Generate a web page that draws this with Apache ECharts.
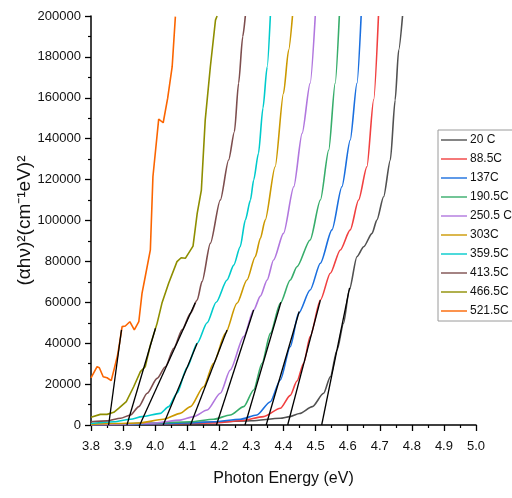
<!DOCTYPE html>
<html><head><meta charset="utf-8">
<script src="https://cdn.jsdelivr.net/npm/echarts@6/dist/echarts.min.js"></script>
<style>html,body{margin:0;padding:0;background:#fff}#c{width:512px;height:498px}</style>
</head><body><div id="c"></div>
<script>
const seriesNames = ['20 C','88.5C','137C','190.5C','250.5 C','303C','359.5C','413.5C','466.5C','521.5C'];
const seriesColors = ['#515151','#F14040','#1A6FDF','#37AD6B','#B177DE','#CC9900','#00CBCC','#7D4E4E','#8E8E00','#FB6501'];
const xTicks = [3.8,3.9,4.0,4.1,4.2,4.3,4.4,4.5,4.6,4.7,4.8,4.9,5.0];

const x20 = [3.80,3.90,4.00,4.10,4.20,4.30,4.39,4.42,4.45,4.49,4.525,4.546,4.567,4.587,4.605,4.629,4.650,4.676,4.691,4.712,4.733,4.748,4.759,4.771];
const y20 = [200,500,800,1100,1500,2100,3300,4100,5600,9000,15500,23600,36700,49700,66000,82300,87200,93700,100200,111600,129600,158900,183400,200000];
const x88 = [3.80,3.90,4.00,4.10,4.18,4.265,4.338,4.39,4.421,4.442,4.463,4.483,4.515,4.546,4.577,4.608,4.634,4.660,4.681,4.696];
const y88 = [100,300,500,800,1000,2100,4100,8200,14500,21500,30200,43200,61100,74200,85600,95400,110000,126300,159000,200000];
const x137 = [3.80,3.90,4.00,4.10,4.182,4.265,4.317,4.359,4.390,4.421,4.447,4.483,4.515,4.551,4.582,4.608,4.629,4.642];
const y137 = [100,300,600,1000,1600,2800,4900,11400,22000,38300,54600,66000,79100,95400,116500,139400,167100,200000];
const x190 = [3.80,3.90,4.00,4.110,4.182,4.234,4.276,4.307,4.333,4.359,4.390,4.421,4.442,4.483,4.515,4.541,4.561,4.574];
const y190 = [300,600,1000,1600,2800,4900,9000,17100,30200,44800,59500,70900,77400,90500,110000,134500,167100,200000];
const x250 = [3.80,3.90,4.00,4.078,4.120,4.162,4.203,4.234,4.276,4.307,4.328,4.349,4.369,4.400,4.432,4.458,4.483,4.499];
const y250 = [200,500,1000,2400,4100,7300,15500,26900,43200,56200,63000,70900,80700,93700,116500,142600,167100,200000];
const x303 = [3.80,3.87,3.95,4.026,4.078,4.110,4.151,4.182,4.219,4.255,4.286,4.312,4.328,4.343,4.374,4.400,4.416,4.428];
const y303 = [300,700,1000,2800,5700,9000,18700,30200,44800,59500,70900,82300,91300,100200,126300,162200,183400,200000];
const x359 = [3.80,3.871,3.923,3.959,4.016,4.042,4.068,4.099,4.131,4.162,4.190,4.224,4.245,4.265,4.281,4.297,4.307,4.322,4.336,4.349,4.359];
const y359 = [700,1600,2800,4100,5700,9000,15500,28000,40000,50000,60000,70900,78200,87200,100200,110000,119800,132900,155000,175000,200000];
const x413 = [3.80,3.85,3.892,3.923,3.949,3.975,4.006,4.032,4.058,4.084,4.110,4.131,4.146,4.172,4.203,4.229,4.247,4.260,4.273,4.281];
const y413 = [1600,2000,3300,4900,9000,15500,22800,28500,37500,46500,54600,61100,70100,88800,110000,129600,143400,167100,189900,200000];
const x466 = [3.80,3.829,3.850,3.871,3.886,3.910,3.933,3.954,3.969,3.985,4.006,4.021,4.042,4.068,4.081,4.094,4.118,4.131,4.144,4.156,4.172,4.188,4.193];
const y466 = [3760,5200,5200,6200,8150,11400,18700,26100,28500,39100,49700,59500,69300,79900,81800,81500,87500,103500,114900,149100,175200,198000,200000];
const x521 = [3.800,3.819,3.826,3.838,3.850,3.863,3.874,3.883,3.897,3.907,3.921,3.935,3.949,3.959,3.969,3.985,3.993,4.011,4.025,4.039,4.053,4.063];
const y521 = [23000,28500,28000,23600,23100,21700,28500,34200,48100,48400,50500,46500,50500,64400,72500,85600,121400,149600,147800,159800,175200,199700];

// linear fits (tangents): intercept x, end x, end y
const fitX0 = [4.519,4.413,4.346,4.280,4.191,4.110,4.025,3.952,3.912,3.855];
const fitX1 = [4.606,4.515,4.449,4.392,4.307,4.224,4.131,4.125,4.001,3.895];
const fitY1 = [67000,61100,55500,60000,56200,46500,40000,59800,47300,46500];

const xs = [x20,x88,x137,x190,x250,x303,x359,x413,x466,x521];
const ys = [y20,y88,y137,y190,y250,y303,y359,y413,y466,y521];

const series = [];
xs.forEach((xa, i) => {
  series.push({
    name: seriesNames[i], type: 'line', symbol: 'none',
    smooth: i < 8 ? 0.25 : false, smoothMonotone: 'x',
    data: xa.map((v, k) => [v, ys[i][k]]),
    lineStyle: {color: seriesColors[i], width: 1.6},
    itemStyle: {color: seriesColors[i]},
    z: 2
  });
});
fitX0.forEach((x0, i) => {
  series.push({
    name: 'fit' + i, type: 'line', symbol: 'none',
    data: [[x0, 0], [fitX1[i], fitY1[i]]],
    lineStyle: {color: '#000', width: 1.3},
    itemStyle: {color: '#000'},
    z: 3, silent: true
  });
});

const font = 'Liberation Sans, Arial, sans-serif';
const chart = echarts.init(document.getElementById('c'), null, {renderer: 'canvas'});
chart.setOption({
  animation: false,
  backgroundColor: '#fff',
  grid: {left: 91, right: 36, top: 16, bottom: 73, containLabel: false, outerBoundsMode: 'none'},
  legend: {
    data: seriesNames, orient: 'vertical', left: 438, top: 130,
    padding: [3, 6, 3, 3], itemGap: 5, itemWidth: 26, itemHeight: 10,
    borderColor: '#9a9a9a', borderWidth: 1,
    textStyle: {fontFamily: font, fontSize: 12, color: '#111', lineHeight: 14, padding: [0,0,0,-2]},
    icon: 'path://M0,4.3 L26,4.3 L26,5.7 L0,5.7 Z'
  },
  xAxis: {
    type: 'value', min: 3.8, max: 5.0, interval: 0.1,
    name: 'Photon Energy (eV)', nameLocation: 'middle', nameGap: 46, nameMoveOverlap: false,
    nameTextStyle: {fontFamily: font, fontSize: 16, color: '#111'},
    axisLine: {show: true, onZero: false, lineStyle: {color: '#000', width: 1.5}},
    axisTick: {show: true, inside: false, length: 6, lineStyle: {color: '#000', width: 1.3}},
    minorTick: {show: true, splitNumber: 2, length: 3, lineStyle: {color: '#000', width: 1.2}},
    axisLabel: {fontFamily: font, fontSize: 13, color: '#111', margin: 15,
      formatter: v => { const t = xTicks.find(q => Math.abs(q - v) < 1e-6); return (t !== undefined ? t : v).toFixed(1); }},
    splitLine: {show: false}
  },
  yAxis: {
    type: 'value', min: 0, max: 200000, interval: 20000,
    name: '(αhν)²(cm⁻¹eV)²', nameLocation: 'middle', nameGap: 57, nameMoveOverlap: false,
    nameTextStyle: {fontFamily: font, fontSize: 19, color: '#111'},
    axisLine: {show: true, onZero: false, lineStyle: {color: '#000', width: 1.5}},
    axisTick: {show: true, inside: false, length: 6, lineStyle: {color: '#000', width: 1.3}},
    minorTick: {show: true, splitNumber: 2, length: 3, lineStyle: {color: '#000', width: 1.2}},
    axisLabel: {fontFamily: font, fontSize: 13, color: '#111', margin: 10, formatter: v => String(v)},
    splitLine: {show: false}
  },
  series: series
});
</script></body></html>
